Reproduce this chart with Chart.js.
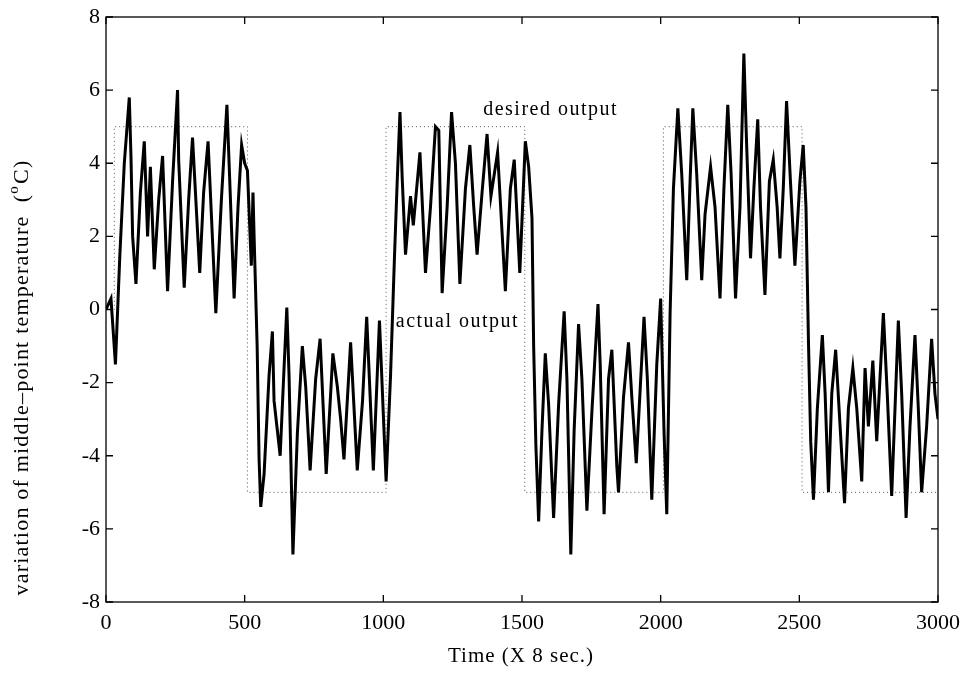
<!DOCTYPE html>
<html>
<head>
<meta charset="utf-8">
<script src="https://cdn.jsdelivr.net/npm/chart.js@4.4.1/dist/chart.umd.min.js"></script>
<style>
  html, body { margin: 0; padding: 0; background: #fff; }
  #wrap { width: 965px; height: 682px; }
</style>
</head>
<body>
<div id="wrap"><canvas id="chart" width="965" height="682"></canvas></div>
<script>
// actual output (time in units of 8 s, temperature in degC)
const actualT = [0, 18, 34, 50, 66, 84, 90, 96, 108, 124, 138, 150, 160, 174, 190, 204, 222, 240, 258, 262, 282, 298, 312, 338, 352, 368, 396, 416, 436, 462, 476, 489, 500, 510, 524, 530, 534,
  545, 552, 558, 570, 588, 600, 606, 628, 642, 652, 660, 674, 690, 708, 720, 736, 756, 772, 794, 818, 834, 846, 858, 882, 906, 925, 940, 964, 986, 1010, 1026,
  1040, 1050, 1060, 1068, 1080, 1098, 1108, 1132, 1152, 1170, 1188, 1200, 1212, 1230, 1246, 1260, 1276, 1296, 1312, 1326, 1338, 1356, 1374, 1388, 1412, 1440, 1458, 1472, 1492, 1512, 1524, 1536,
  1542, 1550, 1560, 1572, 1584, 1596, 1614, 1632, 1652, 1662, 1676, 1688, 1704, 1716, 1734, 1752, 1774, 1782, 1796, 1812, 1824, 1842, 1848, 1866, 1884, 1896, 1912, 1926, 1940, 1952, 1968, 1986, 2000, 2012, 2022,
  2034, 2046, 2062, 2076, 2094, 2106, 2116, 2130, 2148, 2160, 2180, 2196, 2214, 2228, 2242, 2254, 2270, 2286, 2300, 2304, 2310, 2324, 2336, 2350, 2360, 2376, 2392, 2406, 2420, 2430, 2442, 2454, 2468, 2484, 2502, 2514, 2524,
  2533, 2541, 2551, 2565, 2583, 2593, 2605, 2617, 2631, 2647, 2663, 2677, 2693, 2707, 2725, 2737, 2749, 2765, 2779, 2803, 2817, 2833, 2845, 2857, 2869, 2885, 2899, 2917, 2929, 2941, 2959, 2977, 2989, 3000];
const actualY = [0.0, 0.3, -1.5, 1.5, 4.0, 5.8, 4.2, 2.0, 0.7, 3.2, 4.6, 2.0, 3.9, 1.1, 3.0, 4.2, 0.5, 3.5, 6.0, 4.1, 0.6, 3.0, 4.7, 1.0, 3.2, 4.6, -0.1, 3.0, 5.6, 0.3, 2.8, 4.5, 4.0, 3.8, 1.2, 3.2, 2.0,
  -1.0, -4.1, -5.4, -4.5, -1.8, -0.6, -2.5, -4.0, -1.6, 0.05, -1.8, -6.7, -3.4, -1.0, -2.1, -4.4, -1.9, -0.8, -4.5, -1.2, -2.1, -3.0, -4.1, -0.9, -4.4, -2.5, -0.2, -4.4, -0.3, -4.7, -1.8,
  1.4, 3.5, 5.4, 3.6, 1.5, 3.1, 2.3, 4.3, 1.0, 2.8, 5.0, 4.9, 0.45, 2.8, 5.4, 4.0, 0.7, 3.3, 4.5, 2.8, 1.5, 3.2, 4.8, 3.1, 4.3, 0.5, 3.3, 4.1, 1.0, 4.6, 3.9, 2.5,
  -1.0, -3.7, -5.8, -3.3, -1.2, -2.6, -5.7, -2.6, -0.05, -1.9, -6.7, -3.3, -0.4, -1.9, -5.5, -2.8, 0.15, -1.5, -5.6, -1.9, -1.1, -4.3, -5.0, -2.4, -0.9, -2.4, -4.2, -2.2, -0.2, -1.9, -5.2, -1.5, 0.3, -3.3, -5.6,
  -0.1, 3.3, 5.5, 3.7, 0.8, 3.5, 5.5, 3.7, 0.8, 2.6, 3.9, 2.8, 0.3, 3.3, 5.6, 3.7, 0.3, 2.8, 7.0, 6.0, 4.5, 1.4, 3.3, 5.2, 2.8, 0.4, 3.5, 4.1, 2.8, 1.4, 3.3, 5.7, 3.5, 1.2, 3.5, 4.5, 2.8,
  -0.9, -3.6, -5.2, -2.7, -0.7, -2.3, -5.0, -2.3, -1.1, -3.2, -5.3, -2.7, -1.6, -2.7, -4.7, -1.6, -3.2, -1.4, -3.6, -0.1, -2.3, -5.1, -2.7, -0.3, -2.3, -5.7, -3.2, -0.7, -2.7, -5.0, -3.2, -0.8, -2.3, -3.0];

// desired output (square wave)
const desiredT = [0, 30, 30, 510, 510, 1010, 1010, 1510, 1510, 2010, 2010, 2510, 2510, 3000];
const desiredY = [0, 0, 5, 5, -5, -5, 5, 5, -5, -5, 5, 5, -5, -5];

const xTicks = [0, 500, 1000, 1500, 2000, 2500, 3000];
const yTicks = [-8, -6, -4, -2, 0, 2, 4, 6, 8];

const serif = "'Liberation Serif', 'DejaVu Serif', serif";

const toPoints = (xs, ys) => xs.map((x, i) => ({ x: x, y: ys[i] }));

function spacedText(ctx, text, x, y, spacing) {
  ctx.letterSpacing = spacing + 'px';
  ctx.fillText(text, x, y);
  ctx.letterSpacing = '0px';
}

// box round the plot, inward ticks on all four sides, titles and curve labels
const frameTicks = {
  id: 'frameTicks',
  afterDraw(chart) {
    const { ctx, chartArea: a, scales } = chart;
    const len = 7;
    ctx.save();
    ctx.strokeStyle = '#000';
    ctx.lineWidth = 1.3;
    ctx.strokeRect(a.left, a.top, a.right - a.left, a.bottom - a.top);
    ctx.beginPath();
    xTicks.forEach(v => {
      const px = scales.x.getPixelForValue(v);
      ctx.moveTo(px, a.bottom); ctx.lineTo(px, a.bottom - len);
      ctx.moveTo(px, a.top); ctx.lineTo(px, a.top + len);
    });
    yTicks.forEach(v => {
      const py = scales.y.getPixelForValue(v);
      ctx.moveTo(a.left, py); ctx.lineTo(a.left + len, py);
      ctx.moveTo(a.right, py); ctx.lineTo(a.right - len, py);
    });
    ctx.stroke();

    ctx.fillStyle = '#000';
    ctx.textBaseline = 'alphabetic';
    ctx.textAlign = 'left';
    ctx.font = '20px ' + serif;
    spacedText(ctx, 'desired output', scales.x.getPixelForValue(1360), scales.y.getPixelForValue(5.33), 1.5);
    spacedText(ctx, 'actual output', scales.x.getPixelForValue(1045), scales.y.getPixelForValue(-0.47), 1.5);

    // x title
    ctx.textAlign = 'center';
    ctx.font = '21px ' + serif;
    spacedText(ctx, 'Time (X 8 sec.)', 521, 662, 1);

    // y title, rotated, with superscript o
    ctx.save();
    ctx.translate(28, 378);
    ctx.rotate(-Math.PI / 2);
    ctx.textAlign = 'left';
    ctx.font = '22px ' + serif;
    ctx.letterSpacing = '1.2px';
    const main = 'variation of middle\u2013point temperature  (';
    const wMain = ctx.measureText(main).width;
    ctx.font = '15px ' + serif;
    const wSup = ctx.measureText('o').width;
    ctx.font = '22px ' + serif;
    const wEnd = ctx.measureText('C)').width;
    const start = -(wMain + wSup + wEnd) / 2;
    ctx.fillText(main, start, 0);
    ctx.font = '15px ' + serif;
    ctx.fillText('o', start + wMain, -10);
    ctx.font = '22px ' + serif;
    ctx.fillText('C)', start + wMain + wSup + 1, 0);
    ctx.restore();

    ctx.restore();
  }
};

new Chart(document.getElementById('chart'), {
  type: 'line',
  data: {
    datasets: [
      {
        label: 'actual output',
        data: toPoints(actualT, actualY),
        borderColor: '#000',
        borderWidth: 3,
        pointRadius: 0,
        tension: 0,
        fill: false
      },
      {
        label: 'desired output',
        data: toPoints(desiredT, desiredY),
        borderColor: '#555',
        borderWidth: 1,
        borderDash: [1, 3],
        pointRadius: 0,
        tension: 0,
        fill: false
      }
    ]
  },
  options: {
    responsive: false,
    animation: false,
    layout: { padding: { left: 0, right: 27, top: 17, bottom: 0 } },
    plugins: {
      legend: { display: false },
      tooltip: { enabled: false }
    },
    scales: {
      x: {
        type: 'linear',
        min: 0,
        max: 3000,
        afterBuildTicks: s => { s.ticks = xTicks.map(v => ({ value: v })); },
        afterFit: s => { s.height = 80; s.paddingRight = 0; s.paddingLeft = 0; },
        grid: { display: false, drawTicks: false },
        border: { display: false },
        ticks: { color: '#000', font: { family: serif, size: 22 }, padding: 8, maxRotation: 0, callback: v => String(v) }
      },
      y: {
        type: 'linear',
        min: -8,
        max: 8,
        afterBuildTicks: s => { s.ticks = yTicks.map(v => ({ value: v })); },
        afterFit: s => { s.width = 106; s.paddingTop = 0; s.paddingBottom = 0; },
        grid: { display: false, drawTicks: false },
        border: { display: false },
        ticks: { color: '#000', font: { family: serif, size: 22 }, padding: 6, callback: v => String(v) }
      }
    }
  },
  plugins: [frameTicks]
});
</script>
</body>
</html>
